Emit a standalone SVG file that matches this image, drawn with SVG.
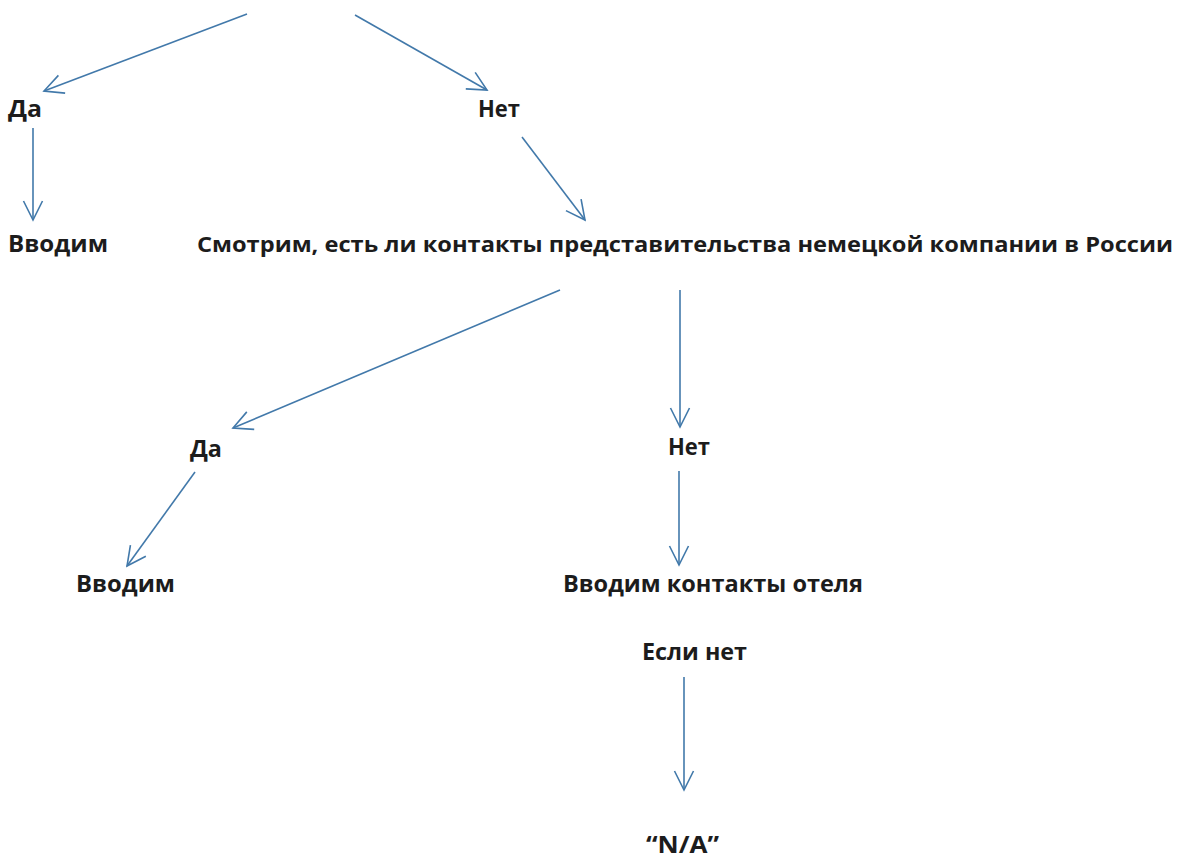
<svg xmlns="http://www.w3.org/2000/svg" width="1182" height="866" viewBox="0 0 1182 866">
<defs>
<style>
.t{font-family:"Open Sans","Noto Sans","DejaVu Sans",sans-serif;font-weight:700;font-size:24px;fill:#1c1c1c}
.s{font-size:22px}
.c line{stroke:#4279aa;stroke-width:1.6;fill:none}
</style>
<marker id="ah" markerUnits="userSpaceOnUse" viewBox="-22 -12 24 24" refX="0" refY="0" markerWidth="24" markerHeight="24" orient="auto">
<path d="M-19,-9.5 L0,0 L-19,9.5" fill="none" stroke="#4279aa" stroke-width="1.6"/>
</marker>
</defs>
<rect width="1182" height="866" fill="#ffffff"/>
<g id="connectors" class="c">
<line x1="247" y1="14" x2="44" y2="91" marker-end="url(#ah)"/>
<line x1="355" y1="15" x2="487" y2="90" marker-end="url(#ah)"/>
<line x1="33" y1="128" x2="33" y2="220" marker-end="url(#ah)"/>
<line x1="522" y1="137" x2="585" y2="220" marker-end="url(#ah)"/>
<line x1="560" y1="290" x2="233" y2="428" marker-end="url(#ah)"/>
<line x1="195" y1="472" x2="127" y2="566" marker-end="url(#ah)"/>
<line x1="680" y1="290" x2="680" y2="427" marker-end="url(#ah)"/>
<line x1="679" y1="471" x2="679" y2="565" marker-end="url(#ah)"/>
<line x1="684" y1="677" x2="684" y2="790" marker-end="url(#ah)"/>
</g>
<g id="yes1"><text class="t" x="8" y="117" textLength="34" lengthAdjust="spacingAndGlyphs">Да</text></g>
<g id="no1"><text class="t" x="478" y="117" textLength="42" lengthAdjust="spacingAndGlyphs">Нет</text></g>
<g id="enter1"><text class="t" x="8" y="252" textLength="100" lengthAdjust="spacingAndGlyphs">Вводим</text></g>
<g id="check"><text class="t s" x="197" y="252" textLength="976" lengthAdjust="spacingAndGlyphs">Смотрим, есть ли контакты представительства немецкой компании в России</text></g>
<g id="yes2"><text class="t" x="190" y="457" textLength="32" lengthAdjust="spacingAndGlyphs">Да</text></g>
<g id="no2"><text class="t" x="668" y="455" textLength="42" lengthAdjust="spacingAndGlyphs">Нет</text></g>
<g id="enter2"><text class="t" x="76" y="592" textLength="99" lengthAdjust="spacingAndGlyphs">Вводим</text></g>
<g id="hotel"><text class="t" x="563" y="592" textLength="300" lengthAdjust="spacingAndGlyphs">Вводим контакты отеля</text></g>
<g id="ifnot"><text class="t" x="642" y="660" textLength="105" lengthAdjust="spacingAndGlyphs">Если нет</text></g>
<g id="na"><text class="t" x="646" y="853" textLength="73" lengthAdjust="spacingAndGlyphs">“N/A”</text></g>
</svg>
